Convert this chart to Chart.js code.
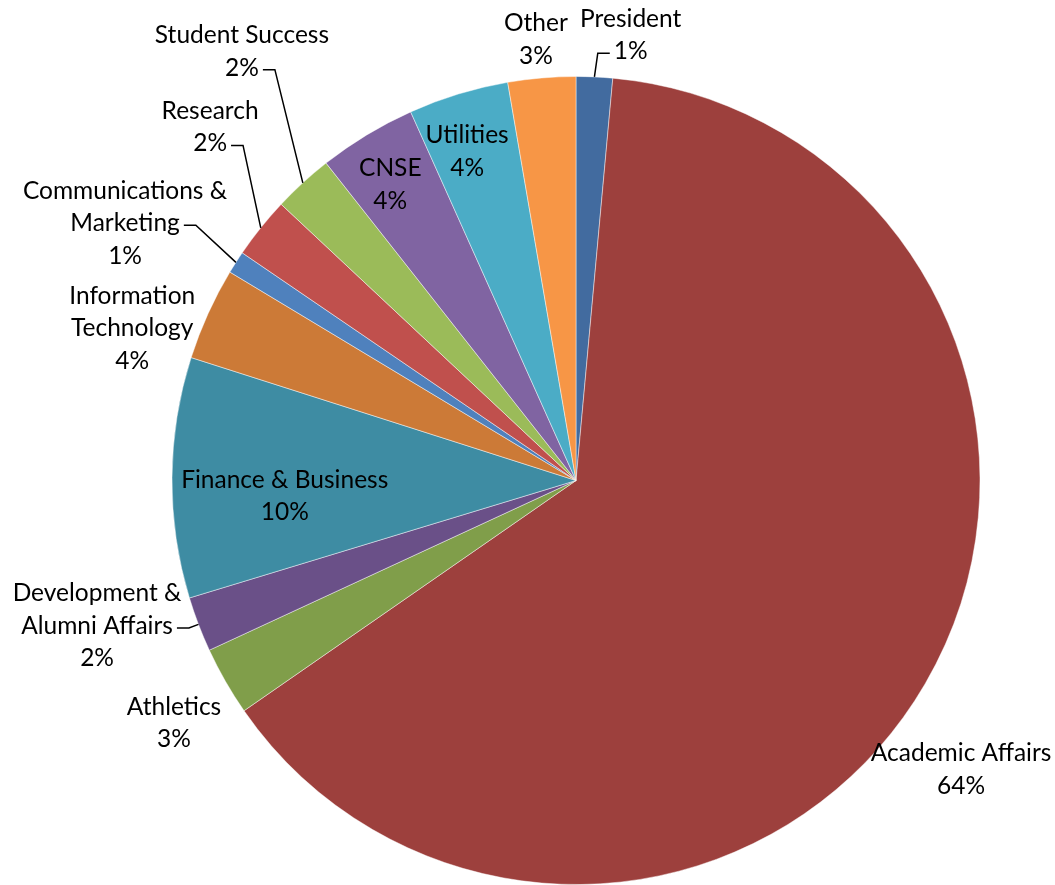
<!DOCTYPE html>
<html>
<head>
<meta charset="utf-8">
<script src="https://cdn.jsdelivr.net/npm/chart.js@4.4.0/dist/chart.umd.min.js"></script>
<style>
  html, body { margin: 0; padding: 0; background: #fff; }
  #wrap { width: 1055px; height: 885px; }
</style>
</head>
<body>
<div id="wrap"><canvas id="budgetChart" width="1055" height="885"></canvas></div>
<script>
// slices, clockwise from 12 o'clock
const categories = ['President', 'Academic Affairs', 'Athletics', 'Development & Alumni Affairs',
    'Finance & Business', 'Information Technology', 'Communications & Marketing', 'Research',
    'Student Success', 'CNSE', 'Utilities', 'Other'];
const shares = [1.45, 63.8, 2.75, 2.2, 9.6, 3.7, 0.9, 2.45, 2.4, 3.9, 4.0, 2.7];
const sliceColors = ['#426B9F', '#9D403D', '#809E4A', '#6A5088', '#3E8CA3', '#CC7A37',
    '#4F81BD', '#C0504D', '#9BBB59', '#8064A2', '#4BACC6', '#F79646'];
// how the category names wrap in the data labels
const labelLines = [['President'], ['Academic Affairs'], ['Athletics'], ['Development &', 'Alumni Affairs'],
    ['Finance & Business'], ['Information', 'Technology'], ['Communications &', 'Marketing'], ['Research'],
    ['Student Success'], ['CNSE'], ['Utilities'], ['Other']];

// label placement: angle (deg clockwise from top) and distance as a fraction of the radius
const labelLayout = [
    { a: 7.0, r: 1.111, leader: { line: 1, side: 'left' } },
    { a: 126.9, r: 1.192 },
    { a: 238.9, r: 1.162 },
    { a: 253.1, r: 1.239, leader: { line: 1, side: 'right' } },
    { a: 266.9, r: 0.722 },
    { a: 288.9, r: 1.161 },
    { a: 299.7, r: 1.285, leader: { line: 1, side: 'right' } },
    { a: 314.0, r: 1.259, leader: { line: 1, side: 'right' } },
    { a: 322.1, r: 1.346, leader: { line: 1, side: 'right' } },
    { a: 327.9, r: 0.865 },
    { a: 341.7, r: 0.858 },
    { a: 354.8, r: 1.096 }
];

const FONT = '24.5px Lato';
const LINE_H = 32.5;

const pieLabels = {
    id: 'pieLabels',
    afterDatasetsDraw(chart) {
        const ctx = chart.ctx;
        const arcs = chart.getDatasetMeta(0).data;
        const total = shares.reduce((s, v) => s + v, 0);
        ctx.save();
        ctx.font = FONT;
        ctx.fillStyle = '#000';
        ctx.textAlign = 'center';
        ctx.textBaseline = 'middle';
        arcs.forEach((arc, i) => {
            const lay = labelLayout[i];
            const rad = lay.a * Math.PI / 180;
            const cx = arc.x + Math.sin(rad) * arc.outerRadius * lay.r;
            const cy = arc.y - Math.cos(rad) * arc.outerRadius * lay.r;
            const lines = labelLines[i].concat([Math.round(shares[i] / total * 100) + '%']);
            const top = cy - (lines.length - 1) * LINE_H / 2;
            lines.forEach((t, k) => ctx.fillText(t, cx, top + k * LINE_H));

            if (lay.leader) {
                const ly = top + lay.leader.line * LINE_H + 2;
                const w = ctx.measureText(lines[lay.leader.line]).width;
                const dir = lay.leader.side === 'right' ? 1 : -1;
                const x0 = cx + dir * (w / 2 + 4);
                const x1 = x0 + dir * 12;
                const mid = (arc.startAngle + arc.endAngle) / 2;
                const ex = arc.x + Math.cos(mid) * arc.outerRadius;
                const ey = arc.y + Math.sin(mid) * arc.outerRadius;
                ctx.beginPath();
                ctx.moveTo(x0, ly);
                ctx.lineTo(x1, ly);
                ctx.lineTo(ex, ey);
                ctx.strokeStyle = '#000';
                ctx.lineWidth = 1.5;
                ctx.stroke();
            }
        });
        ctx.restore();
    }
};

new Chart(document.getElementById('budgetChart').getContext('2d'), {
    type: 'pie',
    data: {
        labels: categories,
        datasets: [{
            data: shares,
            backgroundColor: sliceColors,
            borderColor: 'rgba(255,255,255,0.45)',
            borderWidth: 1
        }]
    },
    options: {
        responsive: false,
        animation: false,
        layout: { padding: { top: 76, bottom: 0, left: 171, right: 74 } },
        plugins: {
            legend: { display: false },
            tooltip: { enabled: false }
        }
    },
    plugins: [pieLabels]
});
</script>
</body>
</html>
